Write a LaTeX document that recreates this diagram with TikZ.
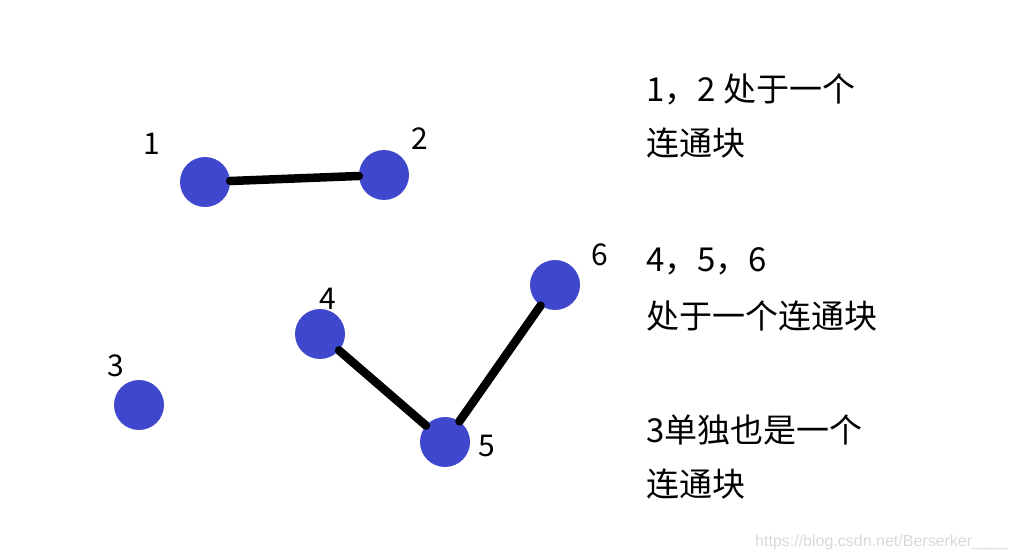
\documentclass[tikz,border=0pt]{standalone}
\usepackage{fontspec}
\setmainfont{Noto Sans CJK SC}
\newfontfamily\wmfont{Liberation Sans}
\definecolor{figN}{RGB}{63,72,204}
\begin{document}
\begin{tikzpicture}[x=1pt,y=-1pt,
  vert/.style={circle,fill=figN,inner sep=0pt,minimum size=50pt},
  lab/.style={font=\fontsize{30}{36}\selectfont,inner sep=0pt},
  txt/.style={font=\fontsize{33}{40}\selectfont,anchor=base west,inner sep=0pt},
  link/.style={line width=8.5pt,line cap=round}]
\useasboundingbox (0,0) rectangle (1018,556);
\node[vert] (n1) at (205,182) {}; \node[lab] (l1) at (152,144) {1};
\node[vert] (n2) at (384,175) {}; \node[lab] (l2) at (420,139) {2};
\node[vert] (n3) at (139,405) {}; \node[lab] (l3) at (116,366) {3};
\node[vert] (n4) at (320,334) {}; \node[lab] (l4) at (328,299) {4};
\node[vert] (n5) at (445,442) {}; \node[lab] (l5) at (487,446) {5};
\node[vert] (n6) at (555,285) {}; \node[lab] (l6) at (600,255) {6};
\draw[link] (n1)--(n2);
\draw[link] (n4)--(n5);
\draw[link] (n5)--(n6);
\node[txt] (t1) at (646,102) {1，2 处于一个};
\node[txt] (t2) at (646,156) {连通块};
\node[txt] (t3) at (646,272) {4，5，6};
\node[txt] (t4) at (646,328) {处于一个连通块};
\node[txt] (t5) at (646,442) {3单独也是一个};
\node[txt] (t6) at (646,496) {连通块};
\node[font=\wmfont\fontsize{16}{18}\selectfont,text=black!15,anchor=base east,inner sep=0pt] (wm) at (1008,546) {https://blog.csdn.net/Berserker\_\_\_\_};
\end{tikzpicture}
\end{document}
